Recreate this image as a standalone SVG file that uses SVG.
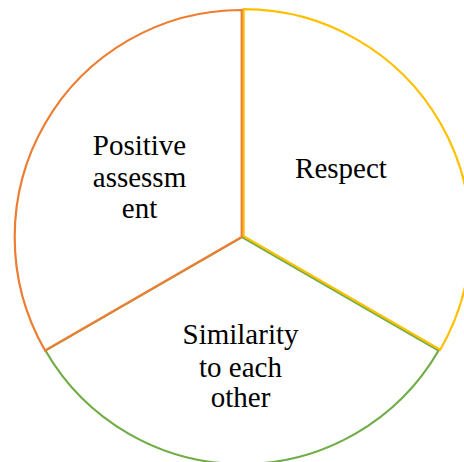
<svg xmlns="http://www.w3.org/2000/svg" width="464" height="462" viewBox="0 0 464 462">
<style>
.slice{fill:#FFFFFF;stroke-width:2.2;stroke-linejoin:miter}
.lbl{font-size:29px;fill:#000000;text-anchor:middle}
</style>
<rect width="464" height="462" fill="#FFFFFF"/>
<g id="slice-similarity">
<path class="slice" stroke="#70AD47" d="M242,237 L438.6,350.5 A227,227 0 0 1 45.4,350.5 Z"/>
</g>
<g id="slice-respect">
<path class="slice" stroke="#FFC000" transform="translate(1.6,-0.8)" d="M242,237 L242,10 A227,227 0 0 1 438.6,350.5 Z"/>
</g>
<g id="slice-positive">
<path class="slice" stroke="#ED7D31" transform="translate(-0.3,0)" d="M242,237 L45.4,350.5 A227,227 0 0 1 242,10 Z"/>
</g>
<g id="labels" font-family="'Liberation Serif', 'Times New Roman', serif">
<text class="lbl" x="341" y="178">Respect</text>
<text class="lbl" x="139.5" y="155">Positive</text>
<text class="lbl" x="139.5" y="187">assessm</text>
<text class="lbl" x="139.5" y="218">ent</text>
<text class="lbl" x="240.5" y="344">Similarity</text>
<text class="lbl" x="240.5" y="377">to each</text>
<text class="lbl" x="240.5" y="407">other</text>
</g>
</svg>
